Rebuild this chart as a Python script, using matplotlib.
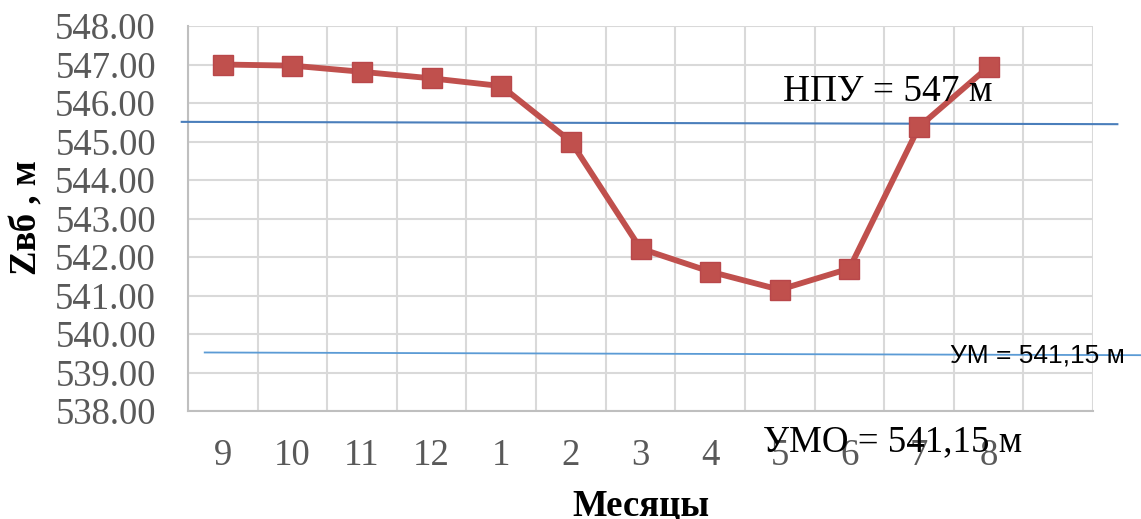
import matplotlib
matplotlib.use("Agg")
import matplotlib.pyplot as plt
import numpy as np

# Monthly upstream water level over a hydrological year (Sep -> Aug)
months = ["9", "10", "11", "12", "1", "2", "3", "4", "5", "6", "7", "8"]
z_vb = [547.00, 546.97, 546.81, 546.64, 546.44, 545.00,
        542.22, 541.62, 541.15, 541.70, 545.38, 546.94]

# reference level lines: (x start, x end) in category units, (y start, y end)
npu_x = (-0.59, 12.85)
npu_y = (545.51, 545.45)
um_x = (-0.26, 13.2)
um_y = (539.52, 539.45)

y_ticks = np.arange(538, 549, 1)

serif = "Liberation Serif"
tick_grey = "#595959"

fig = plt.figure(figsize=(11.41, 5.19), dpi=100)
ax = fig.add_axes([188 / 1141, 1 - 411 / 519, (1093 - 188) / 1141, (411 - 26) / 519])

x = np.arange(len(months))
ax.plot(x, z_vb, color="#C0504D", lw=4.2, marker="s", ms=14,
        markerfacecolor="#C0504D", markeredgecolor="#B9474A", zorder=4)

# level lines drawn as free shapes, slightly outside the plot area
ax.plot(npu_x, npu_y, color="#4A7EBB", lw=1.5, clip_on=False, zorder=3)
ax.plot(um_x, um_y, color="#5B9BD5", lw=1.3, clip_on=False, zorder=3)

ax.set_xlim(-0.5, 12.5)
ax.set_ylim(538, 548)
ax.set_xticks(x)
ax.set_xticklabels(months)
ax.set_xticks(np.arange(-0.5, 13, 1), minor=True)
ax.set_yticks(y_ticks)
ax.set_yticklabels([f"{v:.2f}" for v in y_ticks])

ax.grid(True, which="minor", axis="x", color="#D9D9D9", lw=1.5)
ax.grid(True, which="major", axis="y", color="#D9D9D9", lw=1.5)
ax.set_axisbelow(True)
ax.tick_params(which="both", length=0)
ax.tick_params(axis="y", pad=23, labelsize=26.5, labelcolor=tick_grey)
ax.tick_params(axis="x", pad=20, labelsize=26.5, labelcolor=tick_grey)
for lab in ax.get_xticklabels() + ax.get_yticklabels():
    lab.set_fontfamily(serif)

for side in ("top", "right"):
    ax.spines[side].set_visible(False)
for side in ("left", "bottom"):
    ax.spines[side].set_color("#BFBFBF")
    ax.spines[side].set_linewidth(1.5)

fig.text(27 / 1141, 1 - 218 / 519, "Zвб , м", rotation=90, ha="center", va="center",
         fontsize=26.5, fontweight="bold", fontfamily=serif)
fig.text(641 / 1141, 1 - 506 / 519, "Месяцы", ha="center", va="center",
         fontsize=26.5, fontweight="bold", fontfamily=serif)

fig.text(783 / 1141, 1 - 92 / 519, "НПУ = 547 м", ha="left", va="center",
         fontsize=26.8, fontfamily=serif, zorder=5)
fig.text(950 / 1141, 1 - 356 / 519, "УМ = 541,15 м", ha="left", va="center",
         fontsize=19, fontfamily="Liberation Sans", zorder=5)
fig.text(763 / 1141, 1 - 442 / 519, "УМО = 541,15 м", ha="left", va="center",
         fontsize=26.6, fontfamily=serif, zorder=5)

fig.savefig("out.png", dpi=100)
